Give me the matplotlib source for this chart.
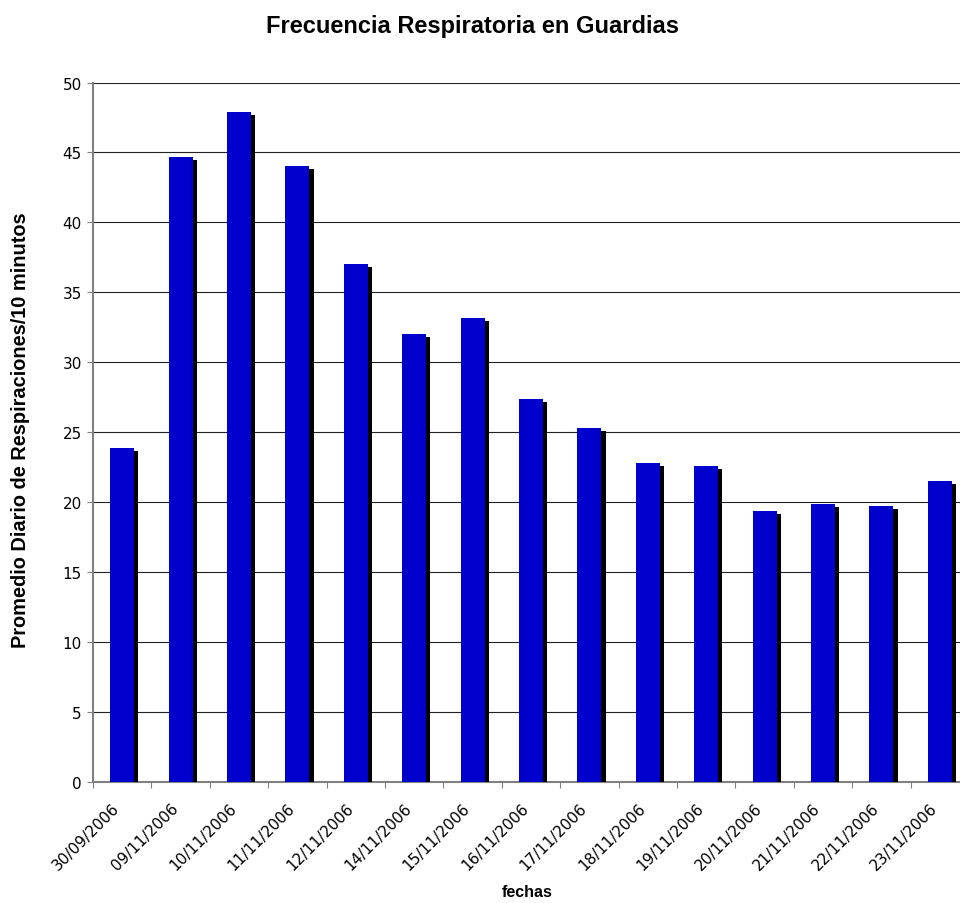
import matplotlib
matplotlib.use("Agg")
import matplotlib.pyplot as plt
import matplotlib.patheffects as pe
import matplotlib.transforms as mtransforms
import numpy as np

fechas = ["30/09/2006", "09/11/2006", "10/11/2006", "11/11/2006", "12/11/2006",
          "14/11/2006", "15/11/2006", "16/11/2006", "17/11/2006", "18/11/2006",
          "19/11/2006", "20/11/2006", "21/11/2006", "22/11/2006", "23/11/2006"]
promedio = [23.9, 44.7, 47.9, 44.0, 37.0, 32.0, 33.2, 27.4, 25.3, 22.8,
            22.6, 19.4, 19.9, 19.7, 21.5]
y_ticks = [0, 5, 10, 15, 20, 25, 30, 35, 40, 45, 50]

W, H = 960, 904
fig = plt.figure(figsize=(W / 100, H / 100), dpi=100)
ax = fig.add_axes([93 / W, 1 - 783 / H, (969 - 93) / W, (783 - 83.5) / H])

x = np.arange(len(fechas))
bars = ax.bar(x, promedio, width=0.41, color="#0000CC", zorder=3)
for b in bars:
    b.set_path_effects([pe.SimplePatchShadow(offset=(3, -2.2), shadow_rgbFace="black", alpha=1.0),
                        pe.Normal()])

ax.set_xlim(-0.5, len(fechas) - 0.5)
ax.set_ylim(0, 50)
ax.set_yticks(y_ticks)
ax.yaxis.grid(True, color="#222222", linewidth=0.8, zorder=0)
ax.set_axisbelow(True)

ax.set_xticks(x)
ax.set_xticklabels(fechas, rotation=45, ha="right", va="center", rotation_mode="anchor",
                   fontsize=11, family="DejaVu Sans")
ax.tick_params(axis="x", which="major", length=0, pad=17)
shift = mtransforms.ScaledTranslation(-5 / 100, 0, fig.dpi_scale_trans)
for lbl in ax.get_xticklabels():
    lbl.set_transform(lbl.get_transform() + shift)
ax.set_xticks(np.arange(-0.5, len(fechas), 1.0), minor=True)
ax.tick_params(axis="x", which="minor", length=4, color="#808080", width=0.8)
ax.tick_params(axis="y", length=4, color="#808080", width=0.8, labelsize=11, pad=4)

for s in ["top", "right"]:
    ax.spines[s].set_visible(False)
for s in ["left", "bottom"]:
    ax.spines[s].set_color("#808080")
    ax.spines[s].set_linewidth(1.5)

fig.text(473 / W, 1 - 26 / H, "Frecuencia Respiratoria en Guardias",
         ha="center", va="center", fontsize=17, fontweight="bold", family="Liberation Sans")
fig.text(21 / W, 1 - 430 / H, "Promedio Diario de Respiraciones/10 minutos",
         ha="center", va="center", rotation=90, fontsize=14.4, fontweight="bold",
         family="Liberation Sans")
fig.text(527 / W, 1 - 893 / H, "fechas", ha="center", va="center",
         fontsize=11.5, fontweight="bold", family="Liberation Sans")

fig.savefig("out.png", dpi=100)
